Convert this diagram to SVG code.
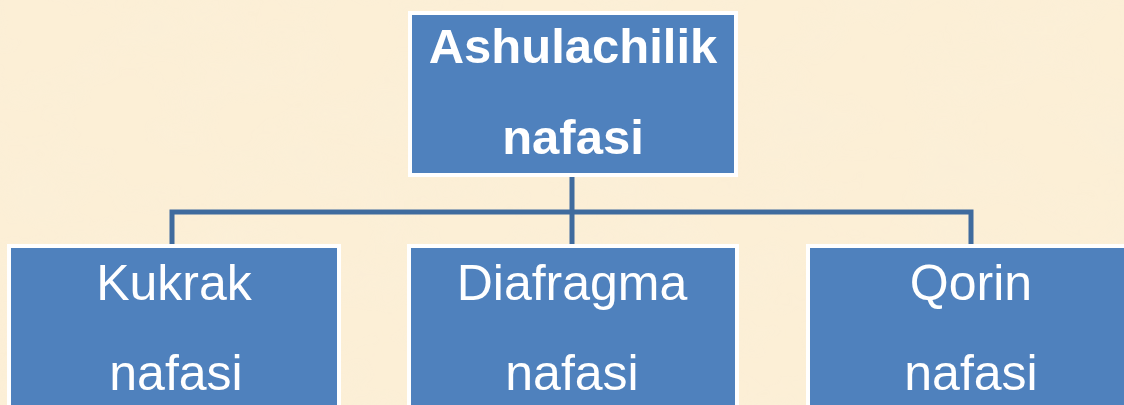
<svg xmlns="http://www.w3.org/2000/svg" width="1124" height="405" viewBox="0 0 1124 405">
<defs>
<style>
.box{fill:#4f81bd;stroke:#ffffff;stroke-width:4}
.t{fill:#ffffff;font-family:"Liberation Sans",Arial,sans-serif;text-anchor:middle}
.tb{font-weight:bold;font-size:49px}
.tr{font-size:50px}
.conn{fill:none;stroke:#3f6b9e;stroke-width:5}
</style>
<filter id="tex" x="0" y="0" width="100%" height="100%">
<feTurbulence type="fractalNoise" baseFrequency="0.012 0.02" numOctaves="3" seed="4"/>
<feColorMatrix type="matrix" values="0 0 0 0 0.93  0 0 0 0 0.86  0 0 0 0 0.72  0 0 0 0.9 -0.35"/>
</filter>
</defs>
<rect x="0" y="0" width="1124" height="405" fill="#fcefd6"/>
<rect x="0" y="0" width="1124" height="405" filter="url(#tex)" opacity="0.5"/>
<g id="connectors">
<path class="conn" d="M572 176 V244 M172 244 V212 H971 V244"/>
</g>
<g id="node-top">
<rect class="box" x="410" y="13" width="326" height="162"/>
<text class="t tb" x="573" y="63">Ashulachilik</text>
<text class="t tb" x="573" y="154">nafasi</text>
</g>
<g id="node-kukrak">
<rect class="box" x="9" y="246" width="330" height="170"/>
<text class="t tr" x="174" y="300">Kukrak</text>
<text class="t tr" x="176" y="390">nafasi</text>
</g>
<g id="node-diafragma">
<rect class="box" x="409" y="246" width="328" height="170"/>
<text class="t tr" x="572" y="300">Diafragma</text>
<text class="t tr" x="572" y="390">nafasi</text>
</g>
<g id="node-qorin">
<rect class="box" x="808" y="246" width="330" height="170"/>
<text class="t tr" x="971" y="300">Qorin</text>
<text class="t tr" x="971" y="390">nafasi</text>
</g>
</svg>
